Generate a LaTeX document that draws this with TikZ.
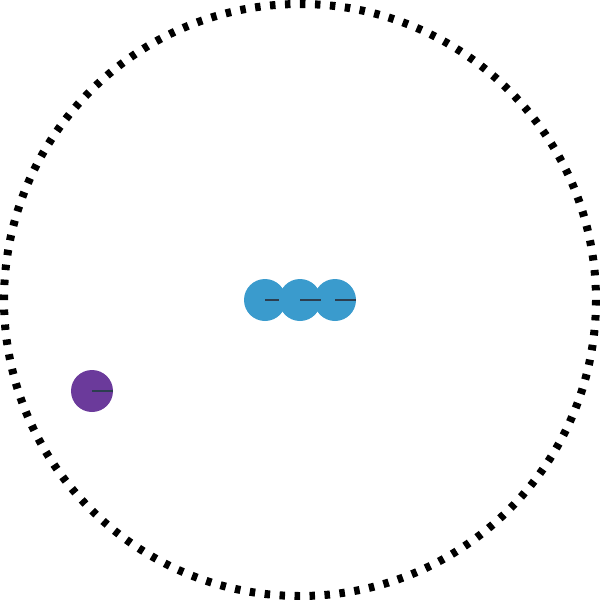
\documentclass[tikz,border=0pt]{standalone}
\definecolor{ballblue}{HTML}{3A9BCD}
\definecolor{ballpurple}{HTML}{6B3A9B}
\definecolor{stickdark}{HTML}{2C3E50}
\usepackage{tikz}
\usetikzlibrary{positioning}
\tikzset{
  ball/.style={circle,fill=ballblue,minimum size=42pt,inner sep=0pt},
  oddball/.style={ball,fill=ballpurple},
  stick/.style={stickdark,line width=1.8pt},
  ring/.style={black,line width=8pt,dash pattern=on 5.5pt off 9.5pt}
}
\begin{document}
\begin{tikzpicture}[x=1pt,y=-1pt]
    \useasboundingbox (0,0) rectangle (600,600);
    \coordinate (mid) at (300,300);
    \draw[ring] (mid) circle (296);
    \node[ball] (b1) at (265,300) {};
    \draw[stick] (b1.center) -- (b1.east);
    \node[ball] (b2) at (300,300) {};
    \node[ball] (b3) at (335,300) {};
    \foreach \b in {b2,b3} \draw[stick] (\b.center) -- (\b.east);
    \node[oddball] (p) at (92,391) {};
    \draw[stick] (p.center) -- (p.east);
  \end{tikzpicture}
\end{document}
